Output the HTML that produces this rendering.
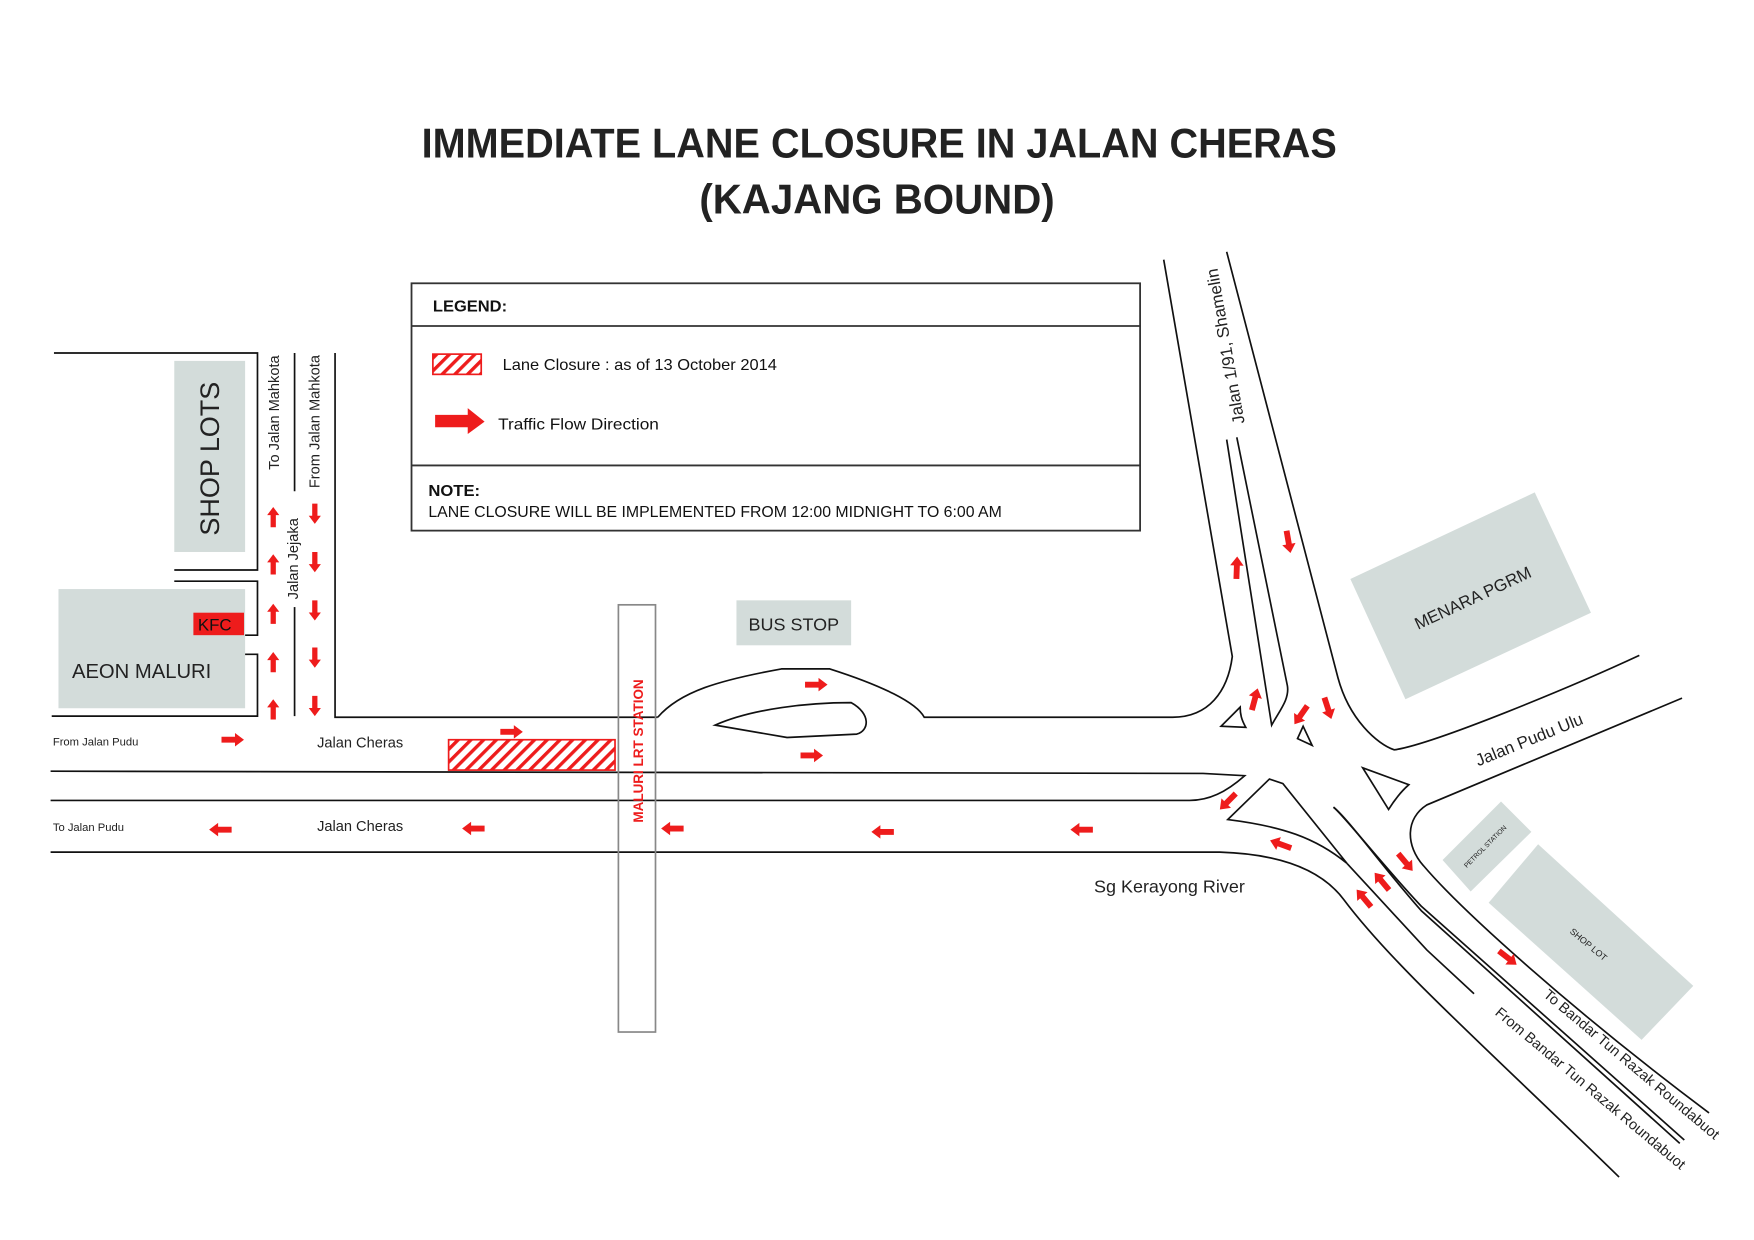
<!DOCTYPE html>
<html><head><meta charset="utf-8"><style>
html,body{margin:0;padding:0;background:#fff;}
svg{display:block;}
text{font-family:"Liberation Sans",sans-serif;}
</style></head><body>
<svg width="1754" height="1240" viewBox="0 0 1560 1103" preserveAspectRatio="none" xmlns="http://www.w3.org/2000/svg">
<defs>
<pattern id="hatch" width="8" height="8" patternUnits="userSpaceOnUse" patternTransform="rotate(45)">
<rect width="8" height="8" fill="#fff"/><rect width="3" height="8" fill="#ee1c1c"/>
</pattern>
<path id="ar" d="M-10,-2.6 L2,-2.6 L2,-6 L10,0 L2,6 L2,2.6 L-10,2.6 Z" fill="#ee1c1c"/>
</defs>
<rect width="1560" height="1103" fill="#fff"/>

<!-- Title -->
<text x="782" y="140" text-anchor="middle" font-size="37" font-weight="bold" fill="#222" textLength="814" lengthAdjust="spacingAndGlyphs">IMMEDIATE  LANE CLOSURE IN JALAN CHERAS</text>
<text x="780" y="190" text-anchor="middle" font-size="37" font-weight="bold" fill="#222" textLength="316" lengthAdjust="spacingAndGlyphs">(KAJANG BOUND)</text>

<!-- Legend -->
<g stroke="#333" stroke-width="1.6" fill="none">
<rect x="366" y="252" width="648" height="220"/>
<line x1="366" y1="290" x2="1014" y2="290"/>
<line x1="366" y1="414" x2="1014" y2="414"/>
</g>
<text x="385" y="277" font-size="14" font-weight="bold" fill="#111" textLength="66" lengthAdjust="spacingAndGlyphs">LEGEND:</text>
<rect x="385" y="315" width="43" height="18" fill="url(#hatch)" stroke="#ee1c1c" stroke-width="1.5"/>
<text x="447" y="329" font-size="14" fill="#111" textLength="244" lengthAdjust="spacingAndGlyphs">Lane Closure : as of 13 October 2014</text>
<path d="M387,369 L416,369 L416,363 L431,375 L416,386 L416,380 L387,380 Z" fill="#ee1c1c"/>
<text x="443" y="382" font-size="14" fill="#111" textLength="143" lengthAdjust="spacingAndGlyphs">Traffic Flow Direction</text>
<text x="381" y="441" font-size="14" font-weight="bold" fill="#111" textLength="46" lengthAdjust="spacingAndGlyphs">NOTE:</text>
<text x="381" y="460" font-size="14" fill="#111" textLength="510" lengthAdjust="spacingAndGlyphs">LANE CLOSURE WILL BE IMPLEMENTED FROM 12:00 MIDNIGHT TO 6:00 AM</text>

<!-- Buildings -->
<rect x="155" y="321" width="63" height="170" fill="#d3dcda"/>
<rect x="52" y="524" width="166" height="106" fill="#d3dcda"/>
<rect x="172" y="545" width="45" height="20" fill="#ee1c1c"/>
<rect x="655" y="534" width="102" height="40" fill="#d3dcda"/>
<polygon points="1201,515 1365,438 1415,545 1250,622" fill="#d3dcda"/>
<polygon points="1283,765 1335,713 1362,740 1308,793" fill="#d3dcda"/>
<polygon points="1324,803 1368,751 1506,877 1460,925" fill="#d3dcda"/>

<!-- Roads -->
<g stroke="#111" stroke-width="1.5" fill="none">
<polyline points="48,314 229,314 229,507 155,507"/>
<polyline points="155,517 229,517 229,565 218,565"/>
<polyline points="218,582 229,582 229,637 46,637"/>
<line x1="262" y1="314" x2="262" y2="437"/>
<line x1="262" y1="540" x2="262" y2="637"/>
<polyline points="298,314 298,638 585,638"/>
<path d="M585,638 C605,615 640,605 695,595 L738,595 C785,610 815,625 822,638 L1043,638 C1075,638 1092,615 1096,584 L1035,231"/>
<path d="M636,645 C670,630 720,625 757,625 C775,635 773,650 762,653 L700,656 Z"/>
<path d="M1091,224 L1190,603 C1200,640 1225,662 1240,667 C1275,662 1400,610 1458,583"/>
<path d="M1091,391 L1131,645 C1138,632 1147,622 1145,610 L1100,389"/>
<path d="M1496,621 L1269,716 C1250,728 1250,752 1266,770 C1300,810 1400,900 1520,990"/>
<path d="M45,686 L1070,688 L1107,690 C1090,705 1075,712 1058,712 L45,712"/>
<path d="M45,758 L1085,758 C1150,760 1180,780 1195,800 C1240,860 1320,930 1440,1047"/>
<path d="M1129,693 L1141,697 L1198,768 C1170,745 1140,735 1092,729 Z"/>
<path d="M1198,768 L1269,845 L1311,884"/>
<path d="M1186,718 C1195,725 1230,770 1264,806 L1498,1014"/>
<path d="M1186,718 C1198,727 1232,774 1264,810 L1494,1017"/>
<path d="M1103,629 L1086,646 L1108,647 C1104,640 1103,635 1103,629 Z"/>
<path d="M1159,646 L1154,657 L1167,663 Z"/>
<path d="M1212,683 L1253,698 C1245,705 1240,712 1235,720 Z"/>
</g>

<!-- LRT station -->
<rect x="550" y="538" width="33" height="380" fill="none" stroke="#888" stroke-width="1.5"/>
<!-- Lane closure -->
<rect x="399" y="658" width="148" height="27" fill="url(#hatch)" stroke="#ee1c1c" stroke-width="1.5"/>

<!-- Labels -->
<text x="187" y="408" transform="rotate(-90 187 408)" text-anchor="middle" font-size="24" fill="#222" dy="8">SHOP LOTS</text>
<text x="64" y="603" font-size="18" fill="#222">AEON MALURI</text>
<text x="176" y="561" font-size="15" fill="#111">KFC</text>
<text x="248" y="367" transform="rotate(-90 248 367)" text-anchor="middle" font-size="13" fill="#222">To Jalan Mahkota</text>
<text x="284" y="375" transform="rotate(-90 284 375)" text-anchor="middle" font-size="13" fill="#222">From Jalan Mahkota</text>
<text x="265" y="497" transform="rotate(-90 265 497)" text-anchor="middle" font-size="13" fill="#222">Jalan Jejaka</text>
<text x="572" y="668" transform="rotate(-90 572 668)" text-anchor="middle" font-size="12" font-weight="bold" fill="#ee1c1c">MALURI LRT STATION</text>
<text x="706" y="561" text-anchor="middle" font-size="16" fill="#222">BUS STOP</text>
<text x="47" y="663" font-size="10" fill="#222">From Jalan Pudu</text>
<text x="282" y="665" font-size="13" fill="#222">Jalan Cheras</text>
<text x="47" y="739" font-size="10" fill="#222">To Jalan Pudu</text>
<text x="282" y="739" font-size="13" fill="#222">Jalan Cheras</text>
<text x="973" y="794" font-size="16" fill="#222">Sg Kerayong River</text>
<text x="1090" y="308" transform="rotate(-100 1090 308)" text-anchor="middle" font-size="15" fill="#222" dy="5">Jalan 1/91, Shamelin</text>
<text x="1310" y="532" transform="rotate(-25 1310 532)" text-anchor="middle" font-size="15" fill="#222" dy="5">MENARA PGRM</text>
<text x="1360" y="658" transform="rotate(-22 1360 658)" text-anchor="middle" font-size="15" fill="#222" dy="5">Jalan Pudu Ulu</text>
<text x="1321" y="753" transform="rotate(-45 1321 753)" text-anchor="middle" font-size="6" fill="#222" dy="2">PETROL STATION</text>
<text x="1413" y="840" transform="rotate(40 1413 840)" text-anchor="middle" font-size="8" fill="#222" dy="3">SHOP LOT</text>
<text x="1372" y="886" transform="rotate(40 1372 886)" font-size="13" fill="#222">To Bandar Tun Razak Roundabuot</text>
<text x="1329" y="902" transform="rotate(40 1329 902)" font-size="13" fill="#222">From Bandar Tun Razak  Roundabuot</text>

<!-- Arrows -->
<g>
<use href="#ar" transform="translate(243,460) rotate(-90) scale(0.9)"/>
<use href="#ar" transform="translate(243,502) rotate(-90) scale(0.9)"/>
<use href="#ar" transform="translate(243,546) rotate(-90) scale(0.9)"/>
<use href="#ar" transform="translate(243,589) rotate(-90) scale(0.9)"/>
<use href="#ar" transform="translate(243,631) rotate(-90) scale(0.9)"/>
<use href="#ar" transform="translate(280,457) rotate(90) scale(0.9)"/>
<use href="#ar" transform="translate(280,500) rotate(90) scale(0.9)"/>
<use href="#ar" transform="translate(280,543) rotate(90) scale(0.9)"/>
<use href="#ar" transform="translate(280,585) rotate(90) scale(0.9)"/>
<use href="#ar" transform="translate(280,628) rotate(90) scale(0.9)"/>
<use href="#ar" transform="translate(207,658)"/>
<use href="#ar" transform="translate(455,651)"/>
<use href="#ar" transform="translate(726,609)"/>
<use href="#ar" transform="translate(722,672)"/>
<use href="#ar" transform="translate(196,738) rotate(180)"/>
<use href="#ar" transform="translate(421,737) rotate(180)"/>
<use href="#ar" transform="translate(598,737) rotate(180)"/>
<use href="#ar" transform="translate(785,740) rotate(180)"/>
<use href="#ar" transform="translate(962,738) rotate(180)"/>
<use href="#ar" transform="translate(1100,505) rotate(-88)"/>
<use href="#ar" transform="translate(1146,482) rotate(80)"/>
<use href="#ar" transform="translate(1116,622) rotate(-75)"/>
<use href="#ar" transform="translate(1157,636) rotate(125)"/>
<use href="#ar" transform="translate(1181,630) rotate(72)"/>
<use href="#ar" transform="translate(1092,713) rotate(135)"/>
<use href="#ar" transform="translate(1139,751) rotate(200)"/>
<use href="#ar" transform="translate(1250,767) rotate(50)"/>
<use href="#ar" transform="translate(1229,784) rotate(-130)"/>
<use href="#ar" transform="translate(1213,799) rotate(-130)"/>
<use href="#ar" transform="translate(1341,852) rotate(38)"/>
</g>
</svg>
</body></html>
